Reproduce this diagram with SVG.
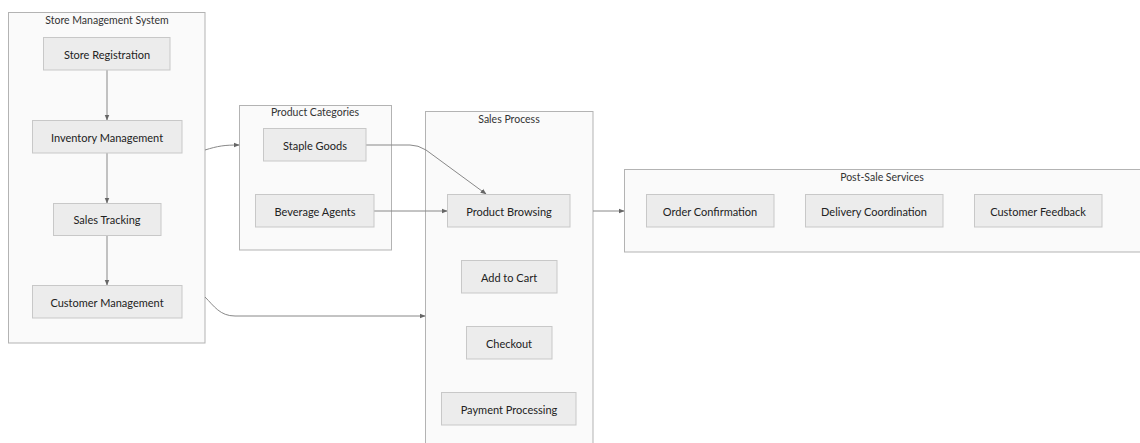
<svg xmlns="http://www.w3.org/2000/svg" width="1140" height="443" viewBox="0 0 1140 443">
<style>
.cluster{fill:#fafafa;stroke:#b3b3b3;stroke-width:1}
.node rect{fill:#ececec;stroke:#c8c8c8;stroke-width:1}
text{font-family:Lato,"Liberation Sans",sans-serif;fill:#222;text-anchor:middle;dominant-baseline:central}
.node text{font-size:11px}
.ct{font-size:10.5px;fill:#333}
.edge{fill:none;stroke:#888;stroke-width:1;marker-end:url(#arr)}
</style>
<defs>
<marker id="arr" viewBox="0 0 10 10" refX="9" refY="5" markerWidth="6" markerHeight="6" orient="auto">
<path d="M0,1 L10,5 L0,9 z" fill="#666"/>
</marker>
</defs>
<rect width="1140" height="443" fill="#fff"/>
<g id="cluster-store">
<rect class="cluster" x="8.5" y="12.5" width="196.5" height="330.5"/>
<text class="ct" x="107" y="20">Store Management System</text>
</g>
<g id="cluster-categories">
<rect class="cluster" x="239.5" y="105.5" width="152" height="144.5"/>
<text class="ct" x="315" y="112">Product Categories</text>
</g>
<g id="cluster-sales">
<rect class="cluster" x="425.5" y="111.5" width="167.5" height="340"/>
<text class="ct" x="509" y="119">Sales Process</text>
</g>
<g id="cluster-post">
<rect class="cluster" x="624.5" y="169.5" width="520" height="82.5"/>
<text class="ct" x="882" y="177">Post-Sale Services</text>
</g>
<g id="edges">
<path class="edge" d="M107,70 L107,120"/>
<path class="edge" d="M107,153 L107,203"/>
<path class="edge" d="M107,235 L107,285"/>
<path class="edge" d="M205,150 C218,146 224,145 239,145"/>
<path class="edge" d="M366,145 L410,145 Q418,145 426,150 L486,194"/>
<path class="edge" d="M374,211 L447,211"/>
<path class="edge" d="M205,297 C214,306 220,316 235,316 L425,316"/>
<path class="edge" d="M593,211 L624,211"/>
</g>
<g id="n-store-registration" class="node"><rect x="43.5" y="37.5" width="126.5" height="32.5"/><text x="107" y="54">Store Registration</text></g>
<g id="n-inventory" class="node"><rect x="32.5" y="120.5" width="149.5" height="32.5"/><text x="107" y="137">Inventory Management</text></g>
<g id="n-sales-tracking" class="node"><rect x="53.5" y="203.5" width="107.5" height="32"/><text x="107" y="219.5">Sales Tracking</text></g>
<g id="n-customer-mgmt" class="node"><rect x="32.5" y="285.5" width="149.5" height="32.5"/><text x="107" y="302">Customer Management</text></g>
<g id="n-staple" class="node"><rect x="263.5" y="128.5" width="102.5" height="32.5"/><text x="315" y="145">Staple Goods</text></g>
<g id="n-beverage" class="node"><rect x="255.5" y="194.5" width="118.5" height="32.5"/><text x="315" y="211">Beverage Agents</text></g>
<g id="n-browsing" class="node"><rect x="447.5" y="194.5" width="122.5" height="32.5"/><text x="509" y="211">Product Browsing</text></g>
<g id="n-cart" class="node"><rect x="461.5" y="260.5" width="95.5" height="32.5"/><text x="509" y="277">Add to Cart</text></g>
<g id="n-checkout" class="node"><rect x="466.5" y="326.5" width="85.5" height="32.5"/><text x="509" y="343">Checkout</text></g>
<g id="n-payment" class="node"><rect x="441.5" y="392.5" width="134.5" height="32.5"/><text x="509" y="409">Payment Processing</text></g>
<g id="n-order" class="node"><rect x="646.5" y="194.5" width="127.5" height="32.5"/><text x="710" y="211">Order Confirmation</text></g>
<g id="n-delivery" class="node"><rect x="805.5" y="194.5" width="137.5" height="32.5"/><text x="874" y="211">Delivery Coordination</text></g>
<g id="n-feedback" class="node"><rect x="974.5" y="194.5" width="127.5" height="32.5"/><text x="1038" y="211">Customer Feedback</text></g>
</svg>
